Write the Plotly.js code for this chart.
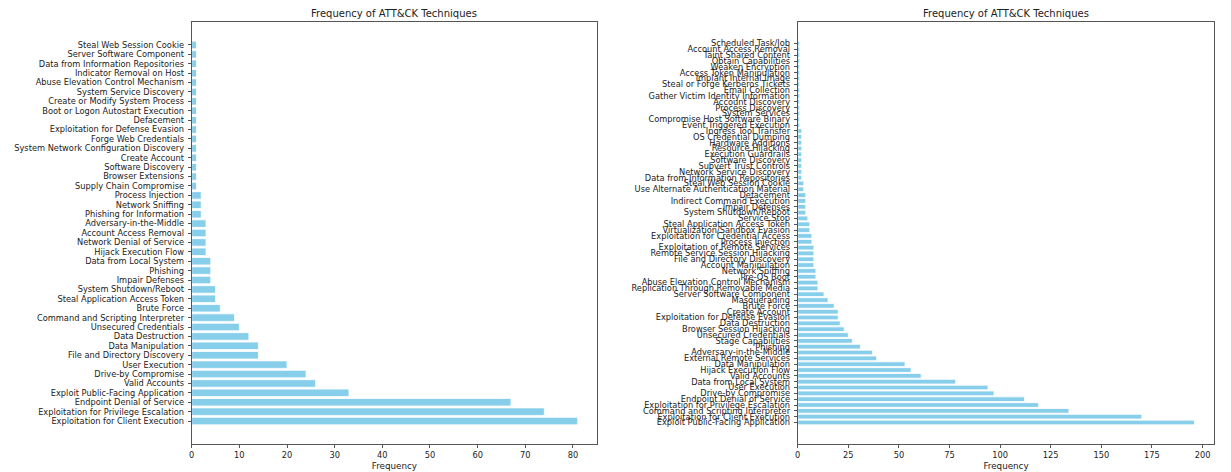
<!DOCTYPE html>
<html>
<head>
<meta charset="utf-8">
<script src="https://cdn.plot.ly/plotly-3.0.1.min.js"></script>
<style>html,body{margin:0;padding:0;background:#fff;}#chart{width:1231px;height:472px;}</style>
</head>
<body>
<div id="chart"></div>
<script>
// Left chart (listed bottom bar first)
const leftTechniques = ["Exploitation for Client Execution", "Exploitation for Privilege Escalation", "Endpoint Denial of Service", "Exploit Public-Facing Application", "Valid Accounts", "Drive-by Compromise", "User Execution", "File and Directory Discovery", "Data Manipulation", "Data Destruction", "Unsecured Credentials", "Command and Scripting Interpreter", "Brute Force", "Steal Application Access Token", "System Shutdown/Reboot", "Impair Defenses", "Phishing", "Data from Local System", "Hijack Execution Flow", "Network Denial of Service", "Account Access Removal", "Adversary-in-the-Middle", "Phishing for Information", "Network Sniffing", "Process Injection", "Supply Chain Compromise", "Browser Extensions", "Software Discovery", "Create Account", "System Network Configuration Discovery", "Forge Web Credentials", "Exploitation for Defense Evasion", "Defacement", "Boot or Logon Autostart Execution", "Create or Modify System Process", "System Service Discovery", "Abuse Elevation Control Mechanism", "Indicator Removal on Host", "Data from Information Repositories", "Server Software Component", "Steal Web Session Cookie"];
const leftCounts = [81, 74, 67, 33, 26, 24, 20, 14, 14, 12, 10, 9, 6, 5, 5, 4, 4, 4, 3, 3, 3, 3, 2, 2, 2, 1, 1, 1, 1, 1, 1, 1, 1, 1, 1, 1, 1, 1, 1, 1, 1];

// Right chart (listed bottom bar first)
const rightTechniques = ["Exploit Public-Facing Application", "Exploitation for Client Execution", "Command and Scripting Interpreter", "Exploitation for Privilege Escalation", "Endpoint Denial of Service", "Drive-by Compromise", "User Execution", "Data from Local System", "Valid Accounts", "Hijack Execution Flow", "Data Manipulation", "External Remote Services", "Adversary-in-the-Middle", "Phishing", "Stage Capabilities", "Unsecured Credentials", "Browser Session Hijacking", "Data Destruction", "Exploitation for Defense Evasion", "Create Account", "Brute Force", "Masquerading", "Server Software Component", "Replication Through Removable Media", "Abuse Elevation Control Mechanism", "Pre-OS Boot", "Network Sniffing", "Account Manipulation", "File and Directory Discovery", "Remote Service Session Hijacking", "Exploitation of Remote Services", "Process Injection", "Exploitation for Credential Access", "Virtualization/Sandbox Evasion", "Steal Application Access Token", "Service Stop", "System Shutdown/Reboot", "Impair Defenses", "Indirect Command Execution", "Defacement", "Use Alternate Authentication Material", "Steal Web Session Cookie", "Data from Information Repositories", "Network Service Discovery", "Subvert Trust Controls", "Software Discovery", "Execution Guardrails", "Resource Hijacking", "Hardware Additions", "OS Credential Dumping", "Ingress Tool Transfer", "Event Triggered Execution", "Compromise Host Software Binary", "System Services", "Process Discovery", "Account Discovery", "Gather Victim Identity Information", "Email Collection", "Steal or Forge Kerberos Tickets", "Implant Internal Image", "Access Token Manipulation", "Weaken Encryption", "Obtain Capabilities", "Taint Shared Content", "Account Access Removal", "Scheduled Task/Job"];
const rightCounts = [196, 170, 134, 119, 112, 97, 94, 78, 61, 56, 53, 39, 37, 31, 27, 25, 23, 21, 20, 20, 18, 15, 13, 10, 10, 9, 9, 8, 8, 8, 8, 7, 7, 6, 6, 5, 4, 4, 4, 4, 3, 3, 2, 2, 2, 2, 2, 2, 2, 2, 2, 1, 1, 1, 1, 1, 1, 1, 1, 1, 1, 1, 1, 1, 1, 1];

const chartTitle = "Frequency of ATT&CK Techniques";
const xLabel = "Frequency";

const W = 1231, H = 472;
const FONT = "DejaVu Sans, sans-serif";
const barColor = "#87CEEB";
const TICK_SIZE = 8.25, TITLE_SIZE = 10;

function barTrace(names, vals, xa, ya) {
  return {
    type: "bar", orientation: "h",
    x: vals, y: names, xaxis: xa, yaxis: ya,
    marker: {color: barColor, line: {color: "#ffffff", width: 0.8}},
    hoverinfo: "x+y"
  };
}

function yRange(n) {
  const lo = -0.4, hi = n - 1 + 0.4, m = (hi - lo) * 0.05;
  return [lo - m, hi + m];
}

const axisCommon = {
  showline: true, mirror: true, linecolor: "#555", linewidth: 1,
  ticks: "outside", ticklen: 3, tickcolor: "#555", tickwidth: 1,
  showgrid: false, zeroline: false,
  tickfont: {family: FONT, size: TICK_SIZE, color: "#222"}
};

const yTop = 22, yBot = 444;
const yDomain = [1 - yBot / H, 1 - yTop / H];

const layout = {
  width: W, height: H,
  margin: {l: 0, r: 0, t: 0, b: 0},
  paper_bgcolor: "#fff", plot_bgcolor: "#fff",
  showlegend: false,
  bargap: 0.2,
  font: {family: FONT, size: TICK_SIZE, color: "#222"},
  xaxis: Object.assign({}, axisCommon, {
    domain: [191.7 / W, 597 / W], anchor: "y",
    range: [0, Math.max(...leftCounts) * 1.05], dtick: 10, tick0: 0,
    title: {text: xLabel, font: {family: FONT, size: 8.75, color: "#222"}, standoff: 3}
  }),
  yaxis: Object.assign({}, axisCommon, {
    domain: yDomain, anchor: "x", type: "category",
    tickmode: "array", tickvals: leftTechniques, ticktext: leftTechniques,
    range: yRange(leftTechniques.length), ticklabelstandoff: 2
  }),
  xaxis2: Object.assign({}, axisCommon, {
    domain: [797.7 / W, 1214.3 / W], anchor: "y2",
    range: [0, Math.max(...rightCounts) * 1.05], dtick: 25, tick0: 0,
    title: {text: xLabel, font: {family: FONT, size: 8.75, color: "#222"}, standoff: 3}
  }),
  yaxis2: Object.assign({}, axisCommon, {
    domain: yDomain, anchor: "x2", type: "category",
    tickmode: "array", tickvals: rightTechniques, ticktext: rightTechniques,
    range: yRange(rightTechniques.length), ticklabelstandoff: 2
  }),
  annotations: [
    {text: chartTitle, xref: "paper", yref: "paper", x: (191.7 + 597) / 2 / W, y: 1 - 13 / H,
     xanchor: "center", yanchor: "middle", showarrow: false, font: {family: FONT, size: TITLE_SIZE, color: "#222"}},
    {text: chartTitle, xref: "paper", yref: "paper", x: (797.7 + 1214.3) / 2 / W, y: 1 - 13 / H,
     xanchor: "center", yanchor: "middle", showarrow: false, font: {family: FONT, size: TITLE_SIZE, color: "#222"}}
  ]
};

Plotly.newPlot("chart", [
  barTrace(leftTechniques, leftCounts, "x", "y"),
  barTrace(rightTechniques, rightCounts, "x2", "y2")
], layout, {displayModeBar: false, staticPlot: true});
</script>
</body>
</html>
